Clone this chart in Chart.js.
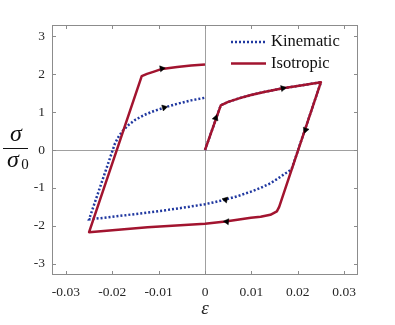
<!DOCTYPE html>
<html>
<head>
<meta charset="utf-8">
<script src="https://cdn.jsdelivr.net/npm/chart.js@4"></script>
<style>
  html, body { margin: 0; padding: 0; background: #fff; }
  #wrap { width: 395px; height: 325px; }
</style>
</head>
<body>
<div id="wrap"><canvas id="chart" width="395" height="325"></canvas></div>
<script>
// kinematic hardening loop (strain, normalised stress)
const kinX = [0, 0.0034, 0.0050, 0.0075, 0.0099, 0.0130, 0.0168, 0.0210, 0.025,
  0.0187, 0.0180, 0.0173, 0.0160, 0.0141, 0.0120, 0.0099, 0.0070, 0.0044, 0.0020, 0,
  -0.0040, -0.0085, -0.0124, -0.0170, -0.0210, -0.025,
  -0.0194, -0.0186, -0.0178, -0.0165, -0.0150, -0.0130, -0.0110, -0.0088, -0.0060, -0.0030, 0];
const kinY = [0, 1.18, 1.27, 1.37, 1.45, 1.54, 1.63, 1.71, 1.79,
  -0.50, -0.57, -0.62, -0.73, -0.88, -1.00, -1.10, -1.22, -1.31, -1.38, -1.43,
  -1.51, -1.59, -1.65, -1.72, -1.78, -1.83,
  0.18, 0.36, 0.50, 0.66, 0.80, 0.93, 1.03, 1.12, 1.22, 1.31, 1.38];

// isotropic hardening loop
const isoX = [0, 0.0034, 0.0050, 0.0075, 0.0099, 0.0130, 0.0168, 0.0210, 0.025,
  0.0160, 0.0155, 0.0141, 0.0120, 0.0099, 0.0070, 0.0044, 0, -0.0124, -0.025,
  -0.01365, -0.0125, -0.0110, -0.0093, -0.0060, -0.0030, 0];
const isoY = [0, 1.18, 1.27, 1.37, 1.45, 1.54, 1.63, 1.71, 1.79,
  -1.50, -1.62, -1.71, -1.76, -1.79, -1.84, -1.89, -1.95, -2.04, -2.17,
  1.95, 2.01, 2.07, 2.14, 2.19, 2.23, 2.26];

// direction arrows: position and local direction (d strain, d stress)
const arrowX = [0.0023, 0.0168, 0.0217, 0.0047, -0.0093, 0.0044, -0.0088];
const arrowY = [0.84, 1.63, 0.53, -1.89, 2.15, -1.31, 1.12];
const arrowDX = [0.001, 0.001, -0.001, -0.001, 0.001, -0.001, 0.001];
const arrowDY = [0.36, 0.024, -0.36, 0.011, 0.02, 0.03, 0.033];

const xTicks = [-0.03, -0.02, -0.01, 0, 0.01, 0.02, 0.03];
const yTicks = [-3, -2, -1, 0, 1, 2, 3];
const seriesNames = ['Kinematic', 'Isotropic'];

function pairs(xs, ys){
    let out = [];
    for (let i = 0; i < xs.length; i++){
        out.push({x: xs[i], y: ys[i]});
    }
    return out;
}

const blue = 'rgb(32, 56, 160)';
const red = 'rgb(162, 20, 47)';
const serif = '"Liberation Serif", "DejaVu Serif", serif';

// frame, inward ticks, legend and the sigma/sigma0 label
const decor = {
    id: 'decor',
    afterDraw(chart){
        const ctx = chart.ctx;
        const a = chart.chartArea;
        const sx = chart.scales.x, sy = chart.scales.y;
        ctx.save();
        ctx.strokeStyle = '#8c8c8c';
        ctx.lineWidth = 1;
        ctx.strokeRect(a.left + 0.5, a.top + 0.5, a.right - a.left - 1, a.bottom - a.top - 1);
        ctx.beginPath();
        for (const v of xTicks){
            let px = Math.round(sx.getPixelForValue(v)) + 0.5;
            ctx.moveTo(px, a.bottom); ctx.lineTo(px, a.bottom - 4);
            ctx.moveTo(px, a.top); ctx.lineTo(px, a.top + 4);
        }
        for (const v of yTicks){
            let py = Math.round(sy.getPixelForValue(v)) + 0.5;
            ctx.moveTo(a.left, py); ctx.lineTo(a.left + 4, py);
            ctx.moveTo(a.right, py); ctx.lineTo(a.right - 4, py);
        }
        ctx.stroke();

        // legend
        const lx = a.left + 179, ly = a.top + 17;
        ctx.lineWidth = 2.5;
        ctx.strokeStyle = blue;
        ctx.setLineDash([2, 2]);
        ctx.beginPath(); ctx.moveTo(lx, ly); ctx.lineTo(lx + 35, ly); ctx.stroke();
        ctx.setLineDash([]);
        ctx.strokeStyle = red;
        ctx.beginPath(); ctx.moveTo(lx, ly + 21.5); ctx.lineTo(lx + 35, ly + 21.5); ctx.stroke();
        ctx.fillStyle = '#111';
        ctx.font = '16.5px ' + serif;
        ctx.textBaseline = 'middle';
        ctx.textAlign = 'left';
        ctx.fillText(seriesNames[0], lx + 40, ly);
        ctx.fillText(seriesNames[1], lx + 40, ly + 21.5);

        // y label as a fraction
        ctx.textAlign = 'center';
        ctx.textBaseline = 'alphabetic';
        ctx.font = 'italic 24px ' + serif;
        ctx.fillText('σ', 16, 141);
        ctx.fillText('σ', 13, 167);
        ctx.font = '15px ' + serif;
        ctx.fillText('0', 25, 169);
        ctx.lineWidth = 1;
        ctx.strokeStyle = '#111';
        ctx.beginPath(); ctx.moveTo(3, 148.5); ctx.lineTo(28, 148.5); ctx.stroke();
        ctx.restore();
    }
};

const zeroLine = c => (Math.abs(c.tick.value) < 1e-9 ? '#a0a0a0' : 'rgba(0,0,0,0)');

new Chart(document.getElementById('chart'), {
    type: 'scatter',
    data: {
        datasets: [
            {
                label: seriesNames[0],
                data: pairs(kinX, kinY),
                showLine: true,
                borderColor: blue,
                borderWidth: 2.5,
                borderDash: [2, 2],
                pointRadius: 0,
                fill: false,
                order: 2
            },
            {
                label: seriesNames[1],
                data: pairs(isoX, isoY),
                showLine: true,
                borderColor: red,
                borderWidth: 2.5,
                borderJoinStyle: 'round',
                pointRadius: 0,
                fill: false,
                order: 1
            },
            {
                label: 'arrows',
                data: pairs(arrowX, arrowY),
                pointStyle: 'triangle',
                pointRadius: 3.5,
                backgroundColor: '#000',
                borderColor: '#000',
                borderWidth: 0.5,
                rotation: c => {
                    const s = c.chart.scales;
                    const i = c.dataIndex;
                    if (!s.x || !s.y) return 0;
                    let vx = s.x.getPixelForValue(arrowX[i] + arrowDX[i]) - s.x.getPixelForValue(arrowX[i]);
                    let vy = s.y.getPixelForValue(arrowY[i] + arrowDY[i]) - s.y.getPixelForValue(arrowY[i]);
                    return Math.atan2(vx, -vy) * 180 / Math.PI;
                },
                order: 0
            }
        ]
    },
    options: {
        responsive: false,
        animation: false,
        layout: { padding: { top: 25, right: 37, left: 0, bottom: 0 } },
        plugins: { legend: { display: false }, tooltip: { enabled: false } },
        scales: {
            x: {
                type: 'linear',
                min: -0.033, max: 0.033,
                afterBuildTicks: s => { s.ticks = xTicks.map(v => ({value: v})); },
                afterFit: s => { s.height = 50; },
                grid: { color: zeroLine, drawTicks: false, lineWidth: 1 },
                border: { display: false },
                ticks: {
                    padding: 9,
                    color: '#262626',
                    font: { family: serif, size: 13.5 },
                    callback: v => (Math.abs(v) < 1e-9 ? '0' : v.toFixed(2))
                },
                title: {
                    display: true,
                    text: 'ε',
                    color: '#262626',
                    font: { family: serif, size: 19, style: 'italic' },
                    padding: { top: 0, bottom: 5 }
                }
            },
            y: {
                type: 'linear',
                min: -3.3, max: 3.3,
                afterBuildTicks: s => { s.ticks = yTicks.map(v => ({value: v})); },
                afterFit: s => { s.width = 52; },
                grid: { color: zeroLine, drawTicks: false, lineWidth: 1 },
                border: { display: false },
                ticks: {
                    padding: 7,
                    color: '#262626',
                    font: { family: serif, size: 13.5 },
                    callback: v => String(v)
                }
            }
        }
    },
    plugins: [decor]
});
</script>
</body>
</html>
